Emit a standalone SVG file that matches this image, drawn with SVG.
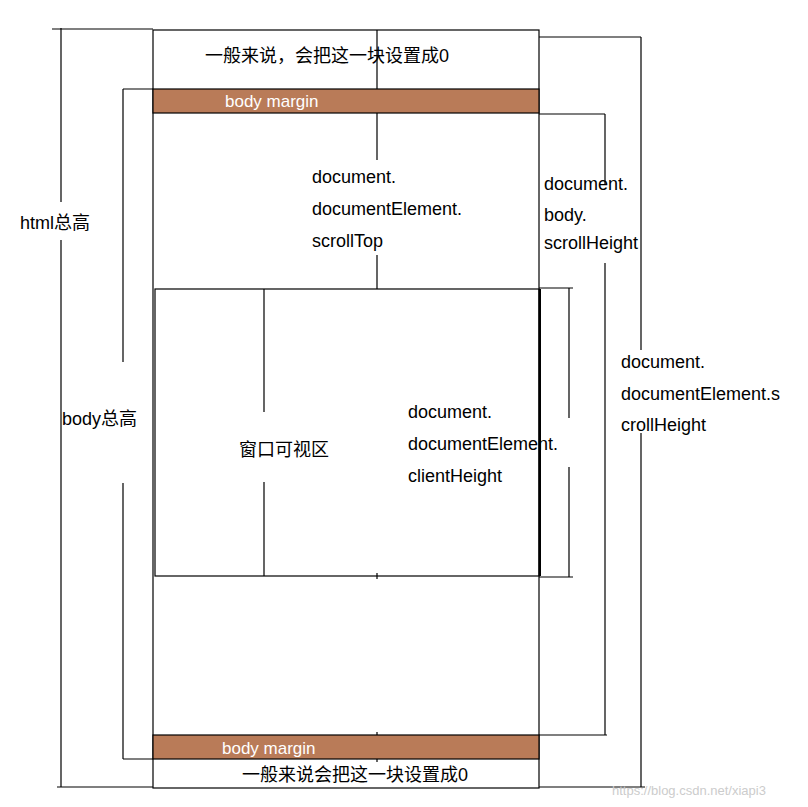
<svg xmlns="http://www.w3.org/2000/svg" width="808" height="807" viewBox="0 0 808 807">
<style>
.l{stroke:#000;stroke-width:1.2;fill:none}
.t{font-family:"Liberation Sans","Noto Sans CJK SC",sans-serif;font-size:18px;fill:#000}
.w{font-family:"Liberation Sans","Noto Sans CJK SC",sans-serif;font-size:17px;fill:#fff}
.m{fill:#b97b58;stroke:#000;stroke-width:1.2}
</style>
<rect width="808" height="807" fill="#fff"/>
<g id="connectors">
<path class="l" d="M52 29H153M61 28V202M61 240V787M57 787H153"/>
<path class="l" d="M539 37H641M641 37V350M641 433V787M539 787H645"/>
<path class="l" d="M123 89H153M123 89V362M123 483V759M123 759H153"/>
<path class="l" d="M539 114H605M605 114V185M605 263V735M539 735H607"/>
<path class="l" d="M377 30V160M377 255V289"/>
<path class="l" d="M264 289V412M264 482V576"/>
<path class="l" d="M539 288H573M539 577H573M569 288V418M569 467V577"/>
<path class="l" d="M377 573V579M377 732V737M377 756V762"/>
</g>
<g id="outer"><rect class="l" x="153" y="30" width="386" height="758"/></g>
<g id="topMargin"><rect class="m" x="153" y="89" width="386" height="24"/><text class="w" x="225" y="107">body margin</text></g>
<g id="bottomMargin"><rect class="m" x="153" y="735" width="386" height="24"/><text class="w" x="222" y="754">body margin</text></g>
<g id="viewport"><rect class="l" x="155" y="289" width="384" height="287"/><path d="M540 289V576" stroke="#000" stroke-width="2"/><text class="t" x="239" y="456">窗口可视区</text></g>
<g id="topNote"><text class="t" x="205" y="62">一般来说，会把这一块设置成0</text></g>
<g id="bottomNote"><text class="t" x="242" y="781">一般来说会把这一块设置成0</text></g>
<g id="scrollTop"><text class="t" x="312" y="183">document.</text><text class="t" x="312" y="215">documentElement.</text><text class="t" x="312" y="247">scrollTop</text></g>
<g id="bodyScrollHeight"><text class="t" x="544" y="190">document.</text><text class="t" x="544" y="221">body.</text><text class="t" x="544" y="249">scrollHeight</text></g>
<g id="htmlScrollHeight"><text class="t" x="621" y="368">document.</text><text class="t" x="621" y="400">documentElement.s</text><text class="t" x="621" y="431">crollHeight</text></g>
<g id="clientHeight"><text class="t" x="408" y="418">document.</text><text class="t" x="408" y="450">documentElement.</text><text class="t" x="408" y="482">clientHeight</text></g>
<g id="htmlTotal"><text class="t" x="20" y="229">html总高</text></g>
<g id="bodyTotal"><text class="t" x="62" y="425">body总高</text></g>
<text x="612" y="795" font-family="Liberation Sans,sans-serif" font-size="13" fill="#ccc">https://blog.csdn.net/xiapi3</text>
</svg>
